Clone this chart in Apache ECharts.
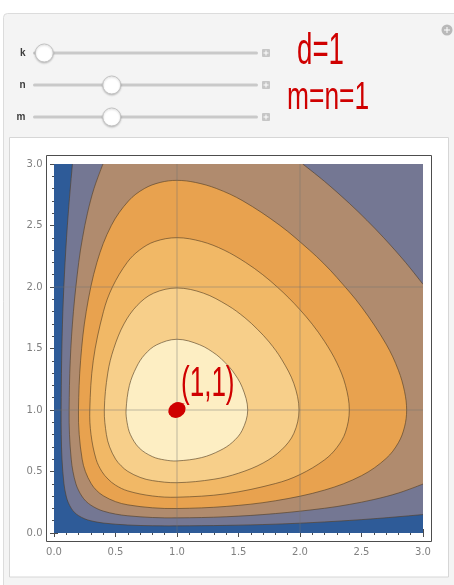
<!DOCTYPE html>
<html>
<head>
<meta charset="utf-8">
<script src="https://cdn.jsdelivr.net/npm/echarts@6/dist/echarts.min.js"></script>
<style>
  html, body { margin: 0; padding: 0; background: #fff; }
  #main { width: 454px; height: 585px; }
</style>
</head>
<body>
<div id="main"></div>
<script>
// plot range / ticks
const axisRange = [0, 3];
const tickStep = 0.5;
const gridLineValues = [1, 2];

// contour curves (levels 0.02 .. 0.12)
const contourLevels = [0.02, 0.04, 0.06, 0.08, 0.10, 0.12];
const c02 = [[0.15,3],[0.116,2.6],[0.09,2.2],[0.072,1.8],[0.062,1.4],[0.058,1.0],[0.059,0.8],[0.065,0.6],[0.081,0.4],[0.099,0.3],[0.115,0.25],[0.141,0.2],[0.167,0.167],[0.2,0.141],[0.25,0.115],[0.3,0.099],[0.4,0.081],[0.6,0.065],[0.8,0.059],[1.0,0.058],[1.4,0.062],[1.8,0.072],[2.2,0.09],[2.6,0.116],[3,0.15]];
const c04 = [[0.398,3],[0.325,2.8],[0.272,2.6],[0.232,2.4],[0.201,2.2],[0.158,1.8],[0.132,1.4],[0.123,1.0],[0.126,0.8],[0.14,0.6],[0.154,0.5],[0.178,0.4],[0.198,0.35],[0.226,0.3],[0.259,0.259],[0.3,0.226],[0.35,0.198],[0.4,0.178],[0.5,0.154],[0.6,0.14],[0.8,0.126],[1.0,0.123],[1.4,0.132],[1.8,0.158],[2.2,0.201],[2.4,0.232],[2.6,0.272],[2.8,0.325],[3,0.398]];
const c04Corner = [[2.022,3],[2.2,2.858],[2.4,2.681],[2.543,2.543],[2.681,2.4],[2.858,2.2],[3,2.022]];
const c06 = [[1,0.199],[1.4,0.216],[1.8,0.262],[2.2,0.349],[2.5,0.466],[2.7,0.606],[2.8,0.734],[2.85,0.863],[2.867,1],[2.85,1.15],[2.8,1.323],[2.7,1.536],[2.5,1.838],[2.3,2.077],[2.192,2.192],[2.077,2.3],[1.838,2.5],[1.536,2.7],[1.323,2.8],[1.15,2.85],[1,2.867],[0.863,2.85],[0.734,2.8],[0.606,2.7],[0.466,2.5],[0.349,2.2],[0.262,1.8],[0.216,1.4],[0.199,1],[0.205,0.8],[0.229,0.6],[0.255,0.5],[0.303,0.4],[0.346,0.346],[0.4,0.303],[0.5,0.255],[0.6,0.229],[0.8,0.205]];
const c08 = [[1,0.291],[1.4,0.319],[1.8,0.402],[2.0,0.475],[2.2,0.595],[2.3,0.695],[2.37,0.82],[2.401,1],[2.37,1.2],[2.3,1.383],[2.2,1.557],[2.1,1.697],[2.0,1.815],[1.91,1.91],[1.815,2.0],[1.697,2.1],[1.557,2.2],[1.383,2.3],[1.2,2.37],[1,2.401],[0.82,2.37],[0.695,2.3],[0.595,2.2],[0.475,2.0],[0.402,1.8],[0.319,1.4],[0.291,1],[0.301,0.8],[0.342,0.6],[0.389,0.5],[0.439,0.439],[0.5,0.389],[0.6,0.342],[0.8,0.301]];
const c10 = [[1,0.409],[1.3,0.437],[1.5,0.486],[1.7,0.569],[1.85,0.676],[1.95,0.81],[1.992,1],[1.95,1.215],[1.85,1.413],[1.75,1.552],[1.655,1.655],[1.552,1.75],[1.413,1.85],[1.215,1.95],[1,1.992],[0.81,1.95],[0.676,1.85],[0.569,1.7],[0.486,1.5],[0.437,1.3],[0.409,1],[0.426,0.8],[0.452,0.7],[0.501,0.6],[0.546,0.546],[0.6,0.501],[0.7,0.452],[0.8,0.426]];
const c12 = [[1,0.586],[1.2,0.613],[1.35,0.671],[1.45,0.737],[1.53,0.835],[1.575,1],[1.53,1.185],[1.45,1.32],[1.388,1.388],[1.32,1.45],[1.185,1.53],[1,1.575],[0.835,1.53],[0.737,1.45],[0.671,1.35],[0.613,1.2],[0.586,1],[0.594,0.9],[0.621,0.8],[0.692,0.692],[0.8,0.621],[0.9,0.594]];

// marked point and annotations
const dotPoint = [1, 1];
const dotLabel = '(1,1)';
const noteTexts = ['d=1', 'm=n=1'];

// manipulate controls
const sliderNames = ['k', 'n', 'm'];
const sliderPos = [0.05, 0.35, 0.35];

// styles
const bandColors = ['#2e5b98', '#747793', '#b08b6e', '#e8a24f', '#f1b866', '#f7cf8a', '#fdeec3'];
const lineColor = 'rgba(80,60,35,0.6)';
const frameColor = '#4d4d4d';
const red = '#cf0000';

// layout
const G = { left: 54, top: 164, size: 369 };
const pad = 0.4; // helper points outside the box for clipped regions
const lo = axisRange[0], hi = axisRange[1];

const fillRegions = [
  [[lo, lo], [hi, lo], [hi, hi], [lo, hi]],
  c02.concat([[hi + pad, 0.2], [hi + pad, hi + pad], [0.2, hi + pad]]),
  c04.concat([[hi + pad, 0.6], [hi + 0.35, 1.6]], c04Corner.slice().reverse(), [[1.6, hi + 0.35], [0.6, hi + pad]]),
  c06, c08, c10, c12
];
const contourLines = [
  { pts: c02, closed: false },
  { pts: c04, closed: false },
  { pts: c04Corner, closed: false },
  { pts: c06, closed: true },
  { pts: c08, closed: true },
  { pts: c10, closed: true },
  { pts: c12, closed: true }
];

const chart = echarts.init(document.getElementById('main'));

function axis(position, offset, showLabel) {
  return {
    type: 'value', position: position, offset: offset,
    min: lo, max: hi, interval: tickStep,
    axisLine: { show: false },
    axisTick: { show: true, inside: true, length: 4, lineStyle: { color: frameColor } },
    minorTick: { show: true, splitNumber: 5, length: 2, lineStyle: { color: frameColor } },
    splitLine: { show: false },
    axisLabel: {
      show: showLabel, color: '#808080', fontSize: 10, fontFamily: 'DejaVu Sans',
      margin: position === 'bottom' ? 6 : 4,
      formatter: v => v.toFixed(1)
    }
  };
}

// slider graphics
const sliderEls = [];
sliderNames.forEach((name, i) => {
  const y = 53 + 32 * i;
  sliderEls.push(
    { type: 'text', x: 25.5, y: y, silent: true,
      style: { text: name, fill: '#3c3c3c', font: 'bold 10px "Liberation Sans"', align: 'right', verticalAlign: 'middle' } },
    { type: 'rect', silent: true, shape: { x: 33, y: y - 1.5, width: 225, height: 3, r: 1.5 }, style: { fill: '#c9c9c9' } },
    { type: 'circle', silent: true, shape: { cx: 33 + sliderPos[i] * 225, cy: y, r: 9 },
      style: { fill: '#ffffff', stroke: '#c4c4c4', lineWidth: 1, shadowBlur: 2, shadowColor: 'rgba(0,0,0,0.2)', shadowOffsetY: 1 } },
    { type: 'rect', silent: true, shape: { x: 262, y: y - 4, width: 8, height: 8, r: 1 }, style: { fill: '#c6c6c6' } },
    { type: 'rect', silent: true, shape: { x: 263.5, y: y - 0.5, width: 5, height: 1 }, style: { fill: '#fff' } },
    { type: 'rect', silent: true, shape: { x: 265.5, y: y - 2.5, width: 1, height: 5 }, style: { fill: '#fff' } }
  );
});

const option = {
  backgroundColor: '#ffffff',
  animation: false,
  grid: { left: G.left, top: G.top, width: G.size, height: G.size },
  xAxis: [axis('bottom', 8.5, true), axis('top', 8.5, false)],
  yAxis: [axis('left', 7.5, true), axis('right', 8.5, false)],
  graphic: [
    { type: 'rect', z: -10, silent: true, shape: { x: 3.5, y: 13.5, width: 470, height: 600, r: 4 },
      style: { fill: '#f4f4f4', stroke: '#dcdcdc', lineWidth: 1 } },
    { type: 'rect', z: -9, silent: true, shape: { x: 9.5, y: 137.5, width: 439, height: 439.5 },
      style: { fill: '#ffffff', stroke: '#d6d6d6', lineWidth: 1 } },
    { type: 'rect', silent: true,
      shape: { x: G.left - 7.5, y: G.top - 8.5, width: G.size + 16, height: G.size + 17 },
      style: { fill: 'none', stroke: frameColor, lineWidth: 1 } },
    { type: 'circle', silent: true, shape: { cx: 447, cy: 30, r: 5.5 }, style: { fill: '#b9b9b9' } },
    { type: 'rect', silent: true, shape: { x: 444, y: 29.5, width: 6, height: 1 }, style: { fill: '#fff' } },
    { type: 'rect', silent: true, shape: { x: 446.5, y: 27, width: 1, height: 6 }, style: { fill: '#fff' } },
    { type: 'text', silent: true, x: 297, y: 52, scaleX: 0.63,
      style: { text: noteTexts[0], fill: red, font: '44px "Liberation Sans"', verticalAlign: 'middle' } },
    { type: 'text', silent: true, x: 287, y: 98, scaleX: 0.6, scaleY: 0.9,
      style: { text: noteTexts[1], fill: red, font: '44px "Liberation Sans"', verticalAlign: 'middle' } }
  ].concat(sliderEls),
  series: [
    {
      type: 'custom', name: 'bands', coordinateSystem: 'cartesian2d', clip: true, silent: true, z: 2,
      data: fillRegions.map(() => [0, 0]),
      renderItem: function (params, api) {
        const i = params.dataIndex;
        return {
          type: 'polygon',
          shape: { points: fillRegions[i].map(p => api.coord(p)), smooth: i ? 0.35 : 0 },
          style: { fill: bandColors[i] }
        };
      }
    },
    {
      type: 'custom', name: 'contours', coordinateSystem: 'cartesian2d', clip: true, silent: true, z: 3,
      data: contourLines.map(() => [0, 0]),
      renderItem: function (params, api) {
        const c = contourLines[params.dataIndex];
        return {
          type: c.closed ? 'polygon' : 'polyline',
          shape: { points: c.pts.map(p => api.coord(p)), smooth: 0.35 },
          style: { fill: 'none', stroke: lineColor, lineWidth: 1 }
        };
      }
    },
    {
      type: 'custom', name: 'gridlines', coordinateSystem: 'cartesian2d', silent: true, z: 4,
      data: gridLineValues.map(v => [v, 0]).concat(gridLineValues.map(v => [v, 1])),
      renderItem: function (params, api) {
        const v = api.value(0);
        const a = api.value(1) === 0 ? api.coord([v, lo]) : api.coord([lo, v]);
        const b = api.value(1) === 0 ? api.coord([v, hi]) : api.coord([hi, v]);
        return {
          type: 'line', shape: { x1: a[0], y1: a[1], x2: b[0], y2: b[1] },
          style: { stroke: 'rgba(110,110,110,0.45)', lineWidth: 1 }
        };
      }
    },
    {
      type: 'scatter', name: 'point', z: 10, silent: true,
      data: [dotPoint], symbolSize: [18, 15], symbolRotate: 30,
      itemStyle: { color: red, opacity: 1 }
    }
  ]
};
chart.setOption(option);

// handwritten label next to the marked point
const p = chart.convertToPixel({ gridIndex: 0 }, dotPoint);
chart.setOption({
  graphic: [{
    id: 'dotLabel', type: 'text', silent: true, z: 20, x: p[0] + 4, y: p[1] - 26, scaleX: 0.62,
    style: { text: dotLabel, fill: red, fontSize: 42, fontFamily: 'Liberation Sans', verticalAlign: 'middle' }
  }]
});
</script>
</body>
</html>
